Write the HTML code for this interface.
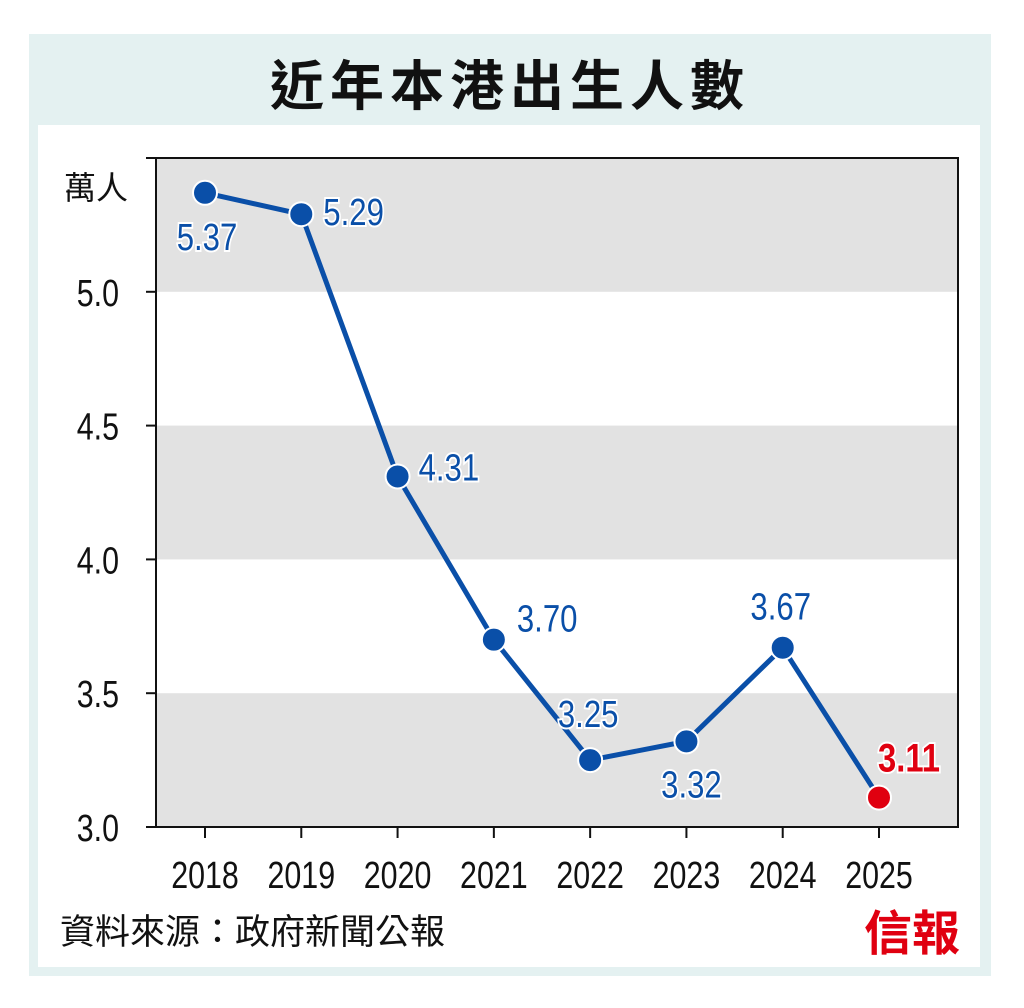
<!DOCTYPE html>
<html><head><meta charset="utf-8"><style>
body{margin:0;background:#fff;width:1024px;height:1003px;overflow:hidden}
svg text{font-family:"Liberation Sans","Noto Sans CJK TC",sans-serif}
</style></head><body>
<svg width="1024" height="1003" xmlns="http://www.w3.org/2000/svg">
<rect x="29" y="34" width="962" height="942" fill="#e4f1f1"/>
<rect x="38" y="125" width="942" height="842" fill="#fff"/>
<text x="510" y="105" font-size="54" letter-spacing="6" text-anchor="middle" fill="#111" font-weight="bold">近年本港出生人數</text>
<g id="plot"></g>
<text x="96" y="199" font-size="32" text-anchor="middle" fill="#111">萬人</text>
<text x="60" y="944" font-size="35" fill="#111">資料來源：政府新聞公報</text>
<text x="960" y="950" font-size="48" text-anchor="end" fill="#e00010" font-weight="bold" font-family="Noto Serif CJK SC,serif">信報</text>
</svg>
<script>
const years=["2018","2019","2020","2021","2022","2023","2024","2025"];
const births=[5.37,5.29,4.31,3.70,3.25,3.32,3.67,3.11];
const yTicks=[3.0,3.5,4.0,4.5,5.0];
const NS="http://www.w3.org/2000/svg";
const g=document.getElementById('plot');
const L=156,R=958,T=158,B=827,yMin=3,yMax=5.5;
const x=i=>205+i*(879-205)/(years.length-1);
const y=v=>B-(v-yMin)/(yMax-yMin)*(B-T);
function mk(t,a,p){const e=document.createElementNS(NS,t);for(const k in a)e.setAttribute(k,a[k]);(p||g).appendChild(e);return e;}
function txt(X,Y,s,a){const t=mk('text',Object.assign({x:0,y:0,transform:`translate(${X},${Y}) scale(${s},1)`},a));return t;}
for(let v=3;v<5.5;v+=1){const r=mk('rect',{x:L,y:y(v+0.5),width:R-L,height:y(v)-y(v+0.5),fill:'#e2e2e2'});

}
const fr=mk('rect',{x:L,y:T,width:R-L,height:B-T,fill:'none',stroke:'#111','stroke-width':2});


mk('line',{x1:146,x2:L,y1:T,y2:T,stroke:'#111','stroke-width':2});
yTicks.forEach(v=>{mk('line',{x1:146,x2:L,y1:y(v),y2:y(v),stroke:'#111','stroke-width':2});
const t=txt(119,y(v)+14,0.8,{'font-size':38,'text-anchor':'end',fill:'#111'});t.textContent=v.toFixed(1);

});
years.forEach((yr,i)=>{mk('line',{x1:x(i),x2:x(i),y1:B,y2:B+11,stroke:'#111','stroke-width':2});
const t=txt(x(i),888,0.8,{'font-size':38,'text-anchor':'middle',fill:'#111'});t.textContent=yr;

});
const pl=mk('polyline',{points:births.map((v,i)=>x(i)+','+y(v)).join(' '),fill:'none',stroke:'#0a4fa8','stroke-width':5,'stroke-linejoin':'round'});


const off=[[2,57,'middle'],[22,11,'start'],[21,4,'start'],[23,-8,'start'],[-2,-33,'middle'],[5,56,'middle'],[-2,-28,'middle'],[-1,-26,'start']];
births.forEach((v,i)=>{const last=i===births.length-1;
const c=mk('circle',{cx:x(i),cy:y(v),r:12,fill:last?'#e00010':'#0a4fa8',stroke:'#fff','stroke-width':2});


const o=off[i];
const t=txt(x(i)+o[0],y(v)+o[1],last?0.82:0.82,{'font-size':last?40:38,'font-weight':last?'bold':'normal','text-anchor':o[2],fill:last?'#e00010':'#0a4fa8',stroke:'#fff','stroke-width':4,'paint-order':'stroke'});
t.textContent=v.toFixed(2);

});
</script>
</body></html>
